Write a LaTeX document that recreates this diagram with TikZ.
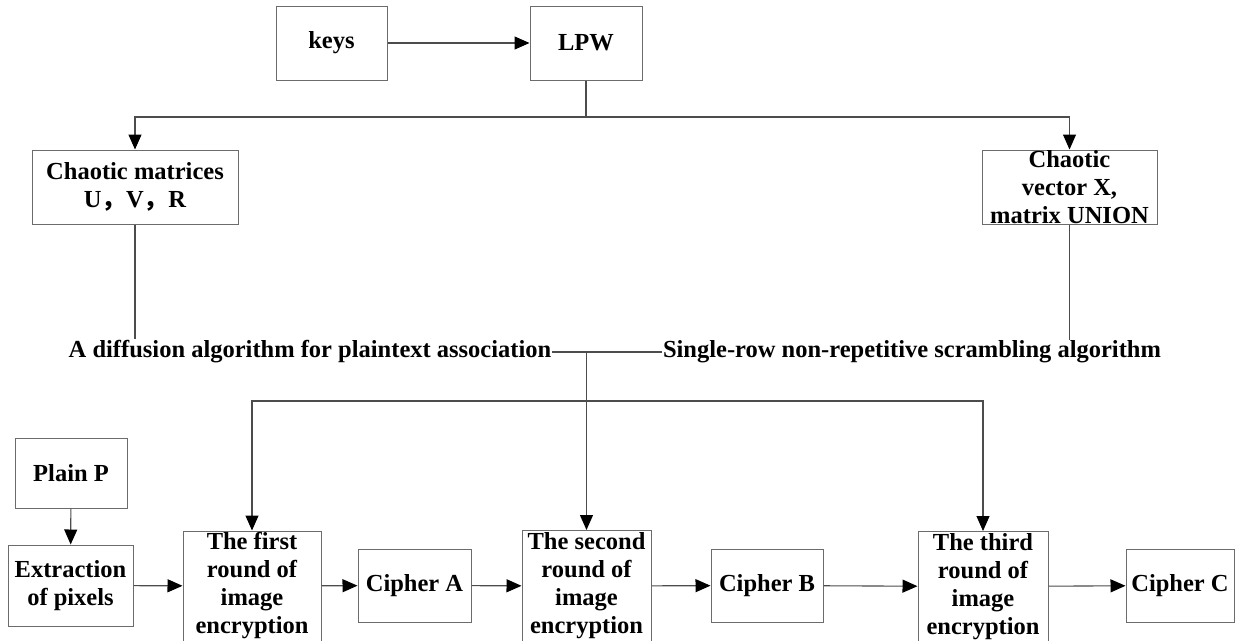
\documentclass[tikz,border=0pt]{standalone}
\usepackage{fontspec}
\setmainfont{Liberation Serif}
\newfontfamily\cjk{Noto Sans CJK SC}
\usetikzlibrary{arrows.meta}
\begin{document}
\begin{tikzpicture}
[
   x=1pt,y=-1pt,
   every node/.style={font=\fontsize{24.5}{28}\selectfont\bfseries,align=center,inner sep=0pt},
   box/.style={draw=gray!85!black,line width=1pt,fill=white},
   link/.style={draw=gray!60!black,line width=1.1pt},
   arr/.style={link,-{Triangle[length=15pt,width=13pt,color=black]}}
]
\useasboundingbox (0,0) rectangle (1236,640);
% key schedule
\node[box,minimum width=111,minimum height=74] (keys) at (331.5,43) {keys};
\node[box,minimum width=112,minimum height=74] (lpw) at (586,43) {LPW};
\node[box,minimum width=206,minimum height=74] (mat) at (135,187) {Chaotic matrices\\U{\cjk ，}V{\cjk ，}R};
\node[box,minimum width=175,minimum height=74] (vec) at (1069.5,187) {Chaotic\\vector X,\\matrix UNION};
% the two algorithms
\node[fill=white,inner sep=1pt] (diff) at (310,352) {A diffusion algorithm for plaintext association};
\node[fill=white,inner sep=1pt] (scr) at (912,352) {Single-row non-repetitive scrambling algorithm};
% encryption chain
\node[box,minimum width=112,minimum height=70] (plain) at (71,473) {Plain P};
\node[box,minimum width=125,minimum height=81] (pix) at (70.5,585.5) {Extraction\\of pixels};
\node[box,minimum width=138,minimum height=110] (r1) at (252,586) {The first\\round of\\image\\encryption};
\node[box,minimum width=113,minimum height=73] (ca) at (414.5,585.5) {Cipher A};
\node[box,minimum width=129,minimum height=111] (r2) at (586.5,586) {The second\\round of\\image\\encryption};
\node[box,minimum width=112,minimum height=73] (cb) at (767,585.5) {Cipher B};
\node[box,minimum width=130,minimum height=110] (r3) at (983,586.5) {The third\\round of\\image\\encryption};
\node[box,minimum width=108,minimum height=73] (cc) at (1180,585.5) {Cipher C};

\coordinate (fork) at (586,117);
\coordinate (bus) at (586.5,401);

\draw[arr] (keys) -- (lpw);
\draw[link] (lpw) -- (fork);
\draw[arr] (fork) -| (mat);
\draw[arr] (fork) -| (vec);
\draw[link] (mat) -- (mat.south |- diff.north);
\draw[link] (vec) -- (vec.south |- scr.north);
\draw[link] (diff) -- (scr);
\draw[link] (diff.east -| bus) -- (bus);
\draw[arr] (bus) -| (r1);
\draw[arr] (bus) -- (r2);
\draw[arr] (bus) -| (r3);
\draw[arr] (plain) -- (pix);
\draw[arr] (pix) -- (r1);
\draw[arr] (r1) -- (ca);
\draw[arr] (ca) -- (r2);
\draw[arr] (r2) -- (cb);
\draw[arr] (cb) -- (r3);
\draw[arr] (r3) -- (cc);
\end{tikzpicture}
\end{document}
